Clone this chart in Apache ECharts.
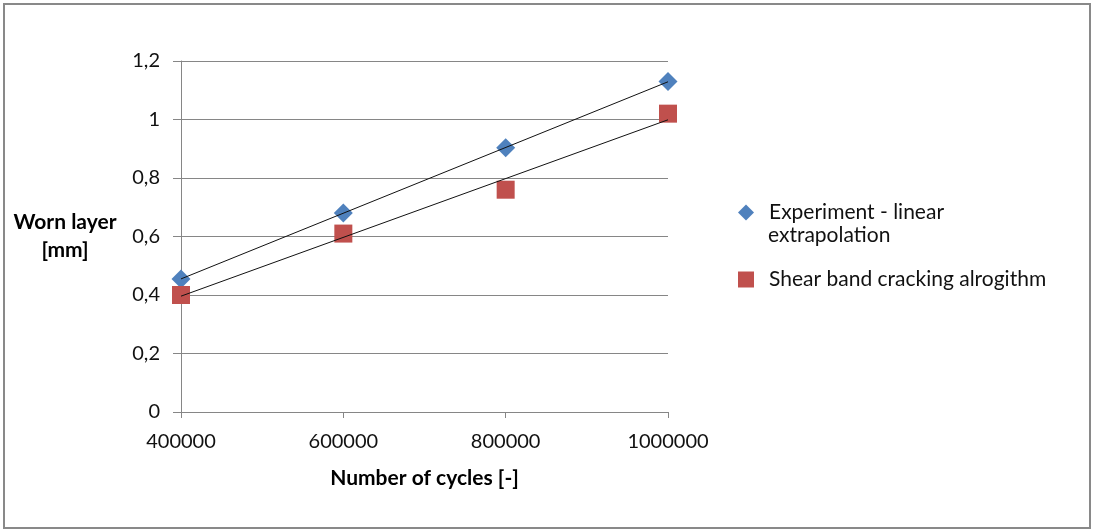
<!DOCTYPE html>
<html>
<head>
<meta charset="utf-8">
<script src="https://cdn.jsdelivr.net/npm/echarts@6/dist/echarts.min.js"></script>
<style>
html,body{margin:0;padding:0;background:#fff;}
#chart{width:1093px;height:530px;}
</style>
</head>
<body>
<div id="chart"></div>
<script>
const cycles = [400000, 600000, 800000, 1000000];
const experiment = [0.455, 0.68, 0.903, 1.13];
const shearBand = [0.40, 0.61, 0.76, 1.02];
// trendline endpoints (at 400000 and 1000000)
const trendX = [400000, 1000000];
const trendExperiment = [0.455, 1.129];
const trendShear = [0.396, 0.999];
const seriesNames = ['Experiment - linear', 'Shear band cracking alrogithm'];
const yTickLabels = ['0', '0,2', '0,4', '0,6', '0,8', '1', '1,2'];

const FONT = 'Lato, "Liberation Sans", sans-serif';
const chart = echarts.init(document.getElementById('chart'));
const pair = (xs, ys) => xs.map((x, i) => [x, ys[i]]);

chart.setOption({
  animation: false,
  backgroundColor: '#fff',
  textStyle: {fontFamily: FONT},
  grid: {left: 181, right: 425, top: 61, bottom: 118},
  xAxis: {
    type: 'value', min: 400000, max: 1000000, interval: 200000,
    name: 'Number of cycles [-]', nameLocation: 'middle', nameGap: 56,
    nameTextStyle: {fontFamily: FONT, fontSize: 21, fontWeight: 'bold', color: '#000'},
    axisLine: {show: true, lineStyle: {color: '#868686', width: 1}},
    axisTick: {show: true, length: 6, lineStyle: {color: '#868686'}},
    axisLabel: {fontFamily: FONT, fontSize: 20, color: '#111', margin: 20,
      formatter: v => String(v)},
    splitLine: {show: false}
  },
  yAxis: {
    type: 'value', min: 0, max: 1.2, interval: 0.2,
    name: 'Worn layer\n[mm]', nameLocation: 'middle', nameRotate: 0, nameGap: 116,
    nameTextStyle: {fontFamily: FONT, fontSize: 21, fontWeight: 'bold', color: '#000', align: 'center', verticalAlign: 'middle', lineHeight: 28},
    axisLine: {show: true, lineStyle: {color: '#868686', width: 1}},
    axisTick: {show: true, length: 8, lineStyle: {color: '#868686'}},
    axisLabel: {fontFamily: FONT, fontSize: 20, color: '#111', margin: 21,
      formatter: v => yTickLabels[Math.round(v / 0.2)]},
    splitLine: {show: true, lineStyle: {color: '#868686', width: 1}}
  },
  legend: {
    orient: 'vertical', left: 733, top: 197,
    itemWidth: 16, itemHeight: 16, itemGap: 46,
    textStyle: {fontFamily: FONT, fontSize: 21, color: '#111', padding: [0, 0, 0, 10]},
    data: [
      {name: seriesNames[0], icon: 'diamond'},
      {name: seriesNames[1], icon: 'rect'}
    ]
  },
  graphic: [
    {type: 'rect', shape: {x: 4, y: 4, width: 1086, height: 524},
     style: {fill: 'none', stroke: '#898989', lineWidth: 2}, silent: true},
    {type: 'text', left: 768, top: 225,
     style: {text: 'extrapolation', font: '21px ' + FONT, fill: '#111'}}
  ],
  series: [
    {name: seriesNames[0], type: 'scatter', symbol: 'diamond', symbolSize: 19,
     itemStyle: {color: '#4F81BD', opacity: 1}, data: pair(cycles, experiment), z: 2},
    {name: seriesNames[1], type: 'scatter', symbol: 'rect', symbolSize: 18,
     itemStyle: {color: '#C0504D', opacity: 1}, data: pair(cycles, shearBand), z: 2},
    {name: 'trend1', type: 'line', showSymbol: false, symbol: 'none',
     lineStyle: {color: '#111', width: 1}, data: pair(trendX, trendExperiment), z: 5, silent: true},
    {name: 'trend2', type: 'line', showSymbol: false, symbol: 'none',
     lineStyle: {color: '#111', width: 1}, data: pair(trendX, trendShear), z: 5, silent: true}
  ]
});
</script>
</body>
</html>
